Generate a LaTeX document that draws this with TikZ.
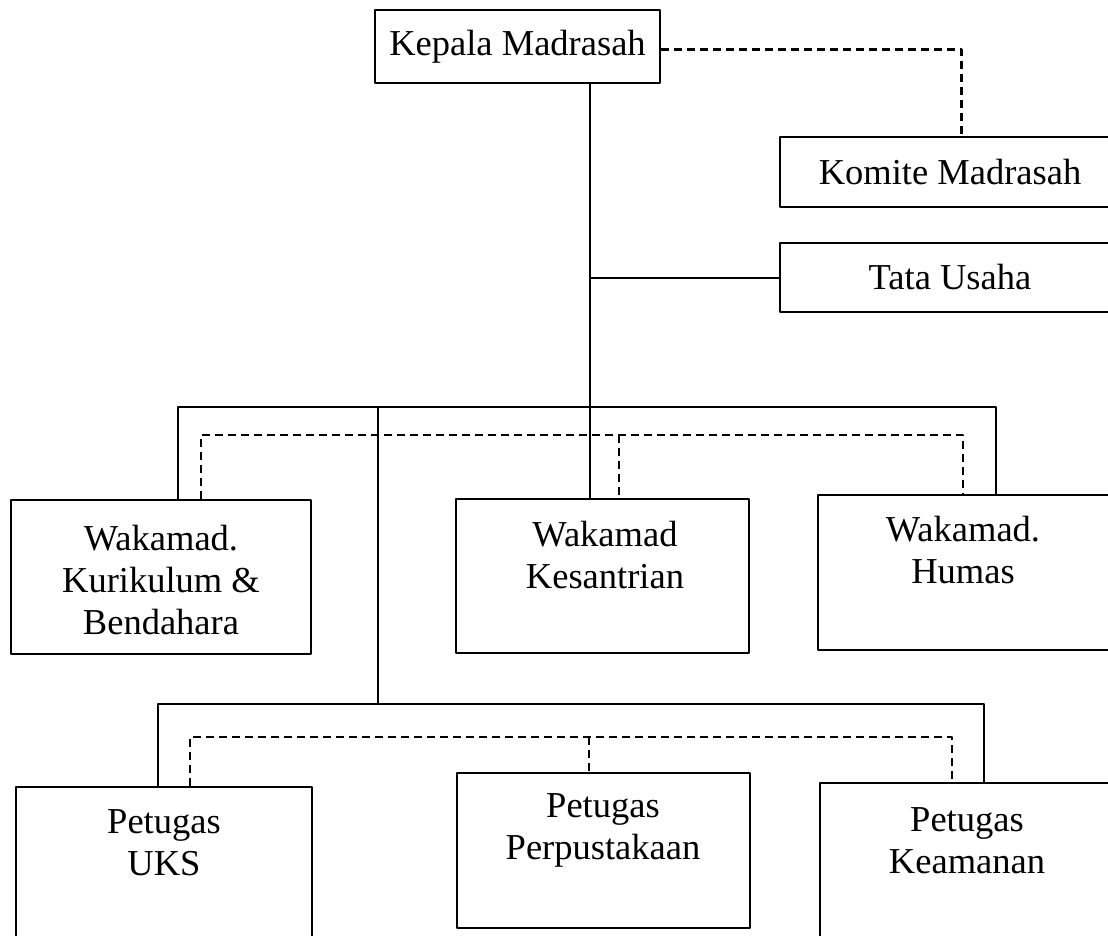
\documentclass[tikz,border=0pt]{standalone}
\usepackage{fontspec}
\setmainfont{Liberation Serif}
\begin{document}
\begin{tikzpicture}[x=1pt,y=-1pt, line join=round,
	kotak/.style={draw, line width=2.2pt, inner sep=0pt},
	garis/.style={line width=2pt},
	putus/.style={line width=2.2pt, dash pattern=on 8pt off 5pt},
	teks/.style={align=center, font=\fontsize{36.5}{42}\selectfont}]
	\useasboundingbox (0,0) rectangle (1108,936);
	% kotak
	\node[kotak, minimum width=285, minimum height=73] (kepala) at (517.5,46.5) {};
	\node[kotak, minimum width=335, minimum height=70] (komite) at (947.5,172) {};
	\node[kotak, minimum width=335, minimum height=69] (tu) at (947.5,277.5) {};
	\node[kotak, minimum width=300, minimum height=154] (kur) at (161,577) {};
	\node[kotak, minimum width=293, minimum height=154] (kes) at (602.5,576) {};
	\node[kotak, minimum width=294, minimum height=155] (hum) at (965,572.5) {};
	\node[kotak, minimum width=296, minimum height=163] (uks) at (164,868.5) {};
	\node[kotak, minimum width=293, minimum height=155] (per) at (603.5,850.5) {};
	\node[kotak, minimum width=295, minimum height=167] (kea) at (967.5,866.5) {};
	% teks
	\node[teks] (tkepala) at (kepala.center) {Kepala Madrasah};
	\node[teks] (tkomite) at (950,172) {Komite Madrasah};
	\node[teks] (ttu) at (950,277.5) {Tata Usaha};
	\node[teks] (tkur) at (161,580) {Wakamad.\\Kurikulum \&\\Bendahara};
	\node[teks] (tkes) at (605,555) {Wakamad\\Kesantrian};
	\node[teks] (thum) at (963,550) {Wakamad.\\Humas};
	\node[teks] (tuks) at (164,843) {Petugas\\UKS};
	\node[teks] (tper) at (603,830) {Petugas\\Perpustakaan};
	\node[teks] (tkea) at (967,841) {Petugas\\Keamanan};
	% titik bantu
	\coordinate (trunk) at (590,0);
	\coordinate (bar1) at (590,407);
	\coordinate (dbar1) at (619,435);
	\coordinate (sub) at (378,704);
	\coordinate (dbar2) at (589,737);
	% garis komando
	\draw[garis] (kepala.south -| trunk) -- (kes.north -| trunk);
	\draw[garis] (trunk |- tu.west) -- (tu.west);
	\draw[garis] ([xshift=17]kur.north) |- (bar1) -| ([xshift=31]hum.north);
	\draw[garis] (bar1 -| sub) -- (sub);
	\draw[garis] ([xshift=-6]uks.north) |- (sub) -| ([xshift=16.5]kea.north);
	% garis koordinasi
	\draw[putus] ([yshift=-3]kepala.east) -| ([xshift=14]komite.north);
	\draw[putus] ([xshift=40]kur.north) |- (dbar1) -| ([xshift=-2]hum.north);
	\draw[putus] (dbar1) -- (dbar1 |- kes.north);
	\draw[putus] ([xshift=26]uks.north) |- (dbar2) -| ([xshift=-15.5]kea.north);
	\draw[putus] (dbar2) -- (dbar2 |- per.north);
\end{tikzpicture}
\end{document}
